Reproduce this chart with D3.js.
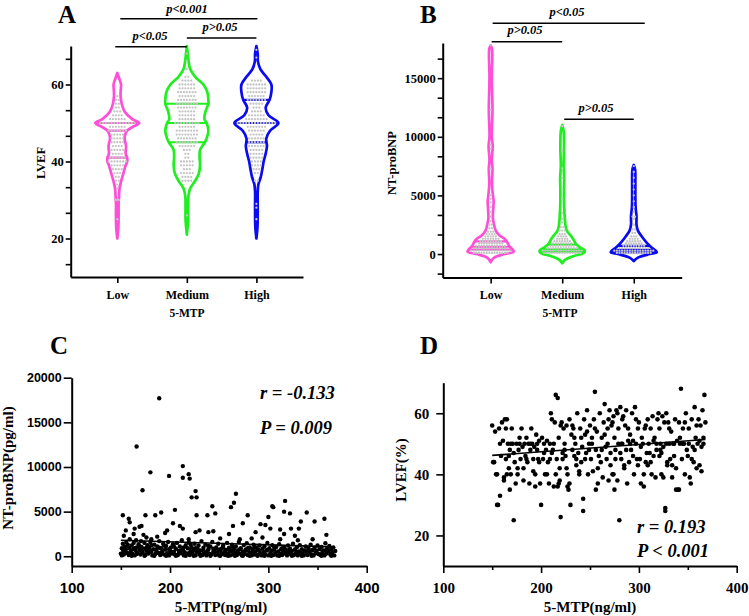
<!DOCTYPE html>
<html>
<head>
<meta charset="utf-8">
<script src="https://cdn.jsdelivr.net/npm/d3@7"></script>
<style>
  body { margin: 0; background: #fff; }
  svg text { font-weight: bold; fill: #000; }
</style>
</head>
<body>
<script>
// ---------- data ----------
const groups = ["Low", "Medium", "High"];
const groupColors = ["#ff4fd8", "#1fee1f", "#0b0bf0"];

// panel A : LVEF violins, [value, relative half width]
const lvefLowShape = [[63,0],[61,0.12],[60,0.17],[58,0.15],[57,0.15],[55,0.2],[53,0.33],[51,0.68],[50,1.0],[49,0.7],[48,0.45],[47,0.36],[46,0.33],[44,0.4],[42,0.38],[41,0.45],[40,0.45],[39,0.38],[37,0.28],[35,0.18],[33,0.1],[31,0.08],[29,0.06],[26,0.06],[23,0.05],[20,0]];
const lvefMedShape = [[70,0],[68,0.04],[66,0.08],[64,0.15],[62,0.38],[60,0.75],[58,0.93],[56,0.98],[55,0.98],[53,0.85],[51,0.8],[50,0.9],[48,0.98],[46,0.9],[45,0.82],[43,0.6],[41,0.58],[39,0.6],[37,0.55],[35,0.38],[33,0.15],[31,0.07],[28,0.06],[25,0.06],[21,0]];
const lvefHighShape = [[70,0],[68,0.06],[66,0.07],[64,0.18],[62,0.45],[60,0.68],[58,0.68],[56,0.6],[54,0.42],[52,0.55],[50,1.0],[48,0.62],[46,0.45],[44,0.48],[42,0.42],[40,0.33],[38,0.27],[36,0.2],[34,0.09],[32,0.06],[29,0.06],[26,0.06],[23,0.05],[20,0]];
const lvefQuartiles = [[41,48,50],[45,50,55],[45,50,56]];
// dots inside violins: [value, count]
const lvefLowDots = [[57,1],[56,2],[55,2],[54,2],[53,3],[52,4],[51,6],[50,13],[49,6],[48,7],[47,5],[46,5],[45,5],[44,4],[43,5],[42,4],[41,6],[40,7],[39,5],[38,4],[37,3],[36,2],[35,2],[34,1],[33,1],[30,2],[25,1]];
const lvefMedDots = [[68,1],[66,1],[64,1],[62,2],[61,4],[60,6],[59,6],[58,7],[57,6],[56,7],[55,8],[54,7],[53,6],[52,6],[51,6],[50,9],[49,6],[48,8],[47,8],[46,7],[45,8],[44,6],[43,3],[42,2],[41,2],[40,5],[39,5],[38,3],[37,5],[36,4],[35,4],[26,1]];
const lvefHighDots = [[69,1],[67,1],[61,4],[60,7],[59,7],[58,7],[57,6],[56,7],[55,5],[54,3],[53,4],[52,6],[51,8],[50,14],[49,7],[48,6],[47,5],[46,6],[45,6],[44,6],[43,5],[42,5],[41,5],[40,4],[39,4],[38,3],[37,2],[35,2],[29,1],[28,1],[25,1]];
const lvefTicks = [20, 40, 60];
const lvefMinor = [13.33, 26.67, 33.33, 46.67, 53.33, 66.67];

// panel B : NT-proBNP violins
const bnpLowShape = [[17800,0],[17500,0.06],[15000,0.05],[12300,0.08],[10000,0.05],[9200,0.09],[8000,0.05],[7300,0.08],[6000,0.06],[5000,0.1],[4500,0.13],[3500,0.1],[3000,0.1],[2500,0.15],[2000,0.22],[1600,0.38],[1300,0.6],[1000,0.72],[700,0.8],[400,0.95],[200,1.0],[0,0.62],[-300,0.15],[-700,0]];
const bnpMedShape = [[11000,0],[10500,0.06],[9000,0.08],[7500,0.06],[6500,0.09],[5500,0.08],[4500,0.08],[3500,0.1],[2500,0.14],[2000,0.2],[1500,0.4],[1200,0.5],[900,0.58],[600,0.75],[300,0.98],[100,0.95],[-200,0.45],[-500,0.12],[-800,0]];
const bnpHighShape = [[7600,0],[7200,0.06],[6000,0.07],[5000,0.07],[4000,0.08],[3200,0.12],[2500,0.12],[2000,0.18],[1500,0.35],[1000,0.55],[600,0.75],[300,0.95],[150,1.0],[0,0.7],[-300,0.18],[-600,0]];
const bnpQuartiles = [[370,600,1080],[200,400,800],[150,350,700]];
const bnpLowDots = [[100,14],[300,16],[500,14],[700,12],[900,10],[1100,9],[1300,7],[1500,5],[1700,4],[1900,3],[2200,2],[2500,2],[2800,1],[3200,1],[3600,1],[4000,1],[4400,1],[4700,1],[5000,1],[7300,1],[9000,1],[9300,1],[12300,1],[17800,1]];
const bnpMedDots = [[100,15],[300,16],[500,12],[700,10],[900,8],[1100,7],[1300,5],[1500,4],[1700,3],[2000,3],[2300,2],[2700,1],[3000,1],[3500,1],[4700,1],[5500,1],[6500,1],[7300,1],[8800,1],[9000,1],[10900,1]];
const bnpHighDots = [[100,14],[300,16],[500,12],[700,9],[900,7],[1100,6],[1300,4],[1500,3],[1800,2],[2100,2],[2500,1],[3000,1],[3200,2],[3600,1],[4000,1],[4500,1],[5000,1],[5500,1],[6000,1],[6500,1],[7000,1],[7500,1]];
const bnpTicks = [0, 5000, 10000, 15000];
const bnpMinor = [-1667, 1667, 3333, 6667, 8333, 11667, 13333, 16667];

// panel C : 5-MTP vs NT-proBNP
const scatterBnp = [
  [189,17700],[166,12300],[180,9400],[199,9000],[213,10100],[213,8800],[219,9200],[220,8700],[172,7400],[222,6600],[226,7300],[227,6600],[267,7000],[265,6000],[317,6200],[304,5600],[305,5500],[243,5600],[246,4800],[262,5500],[227,4600],[238,4600],[205,5200],[191,4900],[185,4600],[175,4600],[152,4600],[158,4200],[279,4600],[339,4900],[347,3900],[357,4200],[316,5000],[333,3900],[322,4800],[300,4400],[302,3100],[312,3000],[323,3100],[331,3100],[312,1900],[203,3700],[210,3400],[213,3100],[171,3400],[164,3100],[155,2900],[159,3800],[230,2900],[264,3400],[274,3700],[287,2700],[297,3500],[292,3600],[359,2400],[239,2700],[244,2800],[260,2500],[271,1900],[195,2600],[197,2900],[219,1900],[173,2400],[176,2100],[181,1900],[187,2200],[153,2300],[163,2500],[169,3300],[226,2700],[283,2000],[294,2100],[327,2300],[345,1900],[251,2000],[316,2500],[330,1800],
  [150,300],[151,900],[152,1400],[152.5,600],[153,200],[154,1100],[155,750],[155.5,1600],[156,400],[157,1300],[158,150],[158.5,900],[159,1900],[160,500],[161,1200],[162,250],[162.5,800],[163,1500],[164,100],[165,650],[165.5,1800],[166,1000],[167,350],[168,1350],[169,700],[170,200],[170.5,1700],[171,1050],[172,450],[173,850],[174,1500],[175,150],[176,600],[177,1250],[178,300],[179,950],[180,1600],[181,500],[182,100],[183,800],[184,1300],[185,250],[186,700],[187,1100],[188,400],[189,1700],[190,150],[191,900],[192,550],[193,1400],[194,200],[195,750],[196,1150],[197,350],[198,1600],[199,100],[200,650],[201,1000],[202,300],[203,1350],[204,500],[205,200],[206,850],[207,1500],[208,150],[209,600],[210,1100],[211,350],[212,1800],[213,750],[214,100],[215,450],[216,1250],[217,250],[218,900],[219,1550],[220,150],[221,600],[222,1000],[223,300],[224,700],[225,1400],[226,100],[227,500],[228,850],[229,1200],[230,250],[231,650],[232,1700],[233,150],[234,950],[235,400],[236,1300],[237,100],[238,600],[239,800],[240,300],[241,1100],[242,200],[243,1600],[244,500],[245,750],[246,150],[247,1000],[248,350],[249,1400],[250,100],[251,600],[252,850],[253,250],[254,1200],[255,450],[256,150],[257,700],[258,1500],[259,300],[260,950],[261,100],[262,550],[263,1300],[264,200],[265,800],[266,400],[267,1100],[268,150],[269,650],[270,1600],[271,300],[272,900],[273,100],[274,500],[275,1250],[276,250],[277,750],[278,1450],[279,150],[280,600],[281,1000],[282,350],[283,100],[284,800],[285,1300],[286,200],[287,550],[288,950],[289,150],[290,700],[291,1200],[292,300],[293,100],[294,850],[295,450],[296,1100],[297,200],[298,650],[299,1500],[300,100],[301,900],[302,350],[303,600],[304,1250],[305,150],[306,750],[307,400],[308,1050],[309,100],[310,550],[311,1350],[312,250],[313,800],[314,150],[315,500],[316,1000],[317,300],[318,700],[319,100],[320,1200],[321,450],[322,850],[323,200],[324,600],[325,1400],[326,150],[327,750],[328,350],[329,1000],[330,100],[331,550],[332,1250],[333,250],[334,800],[335,400],[336,100],[337,650],[338,1100],[339,300],[340,150],[341,850],[342,500],[343,1300],[344,200],[345,700],[346,100],[347,950],[348,400],[349,600],[350,1200],[351,250],[352,800],[353,150],[354,1050],[355,450],[356,650],[357,100],[358,1450],[359,300],[360,900],[361,550],[362,1150],[363,200],[364,750],[365,400],[366,1000],[367,100],[368,600],
  [151,100],[153,650],[156,1000],[159,350],[161,50],[164,900],[166,250],[169,1100],[171,600],[174,50],[176,950],[179,700],[181,1250],[184,50],[186,400],[189,950],[191,300],[194,1200],[196,50],[199,800],[201,450],[204,1100],[206,50],[209,300],[211,650],[214,1000],[216,50],[219,350],[221,1300],[224,50],[226,900],[229,450],[231,50],[234,600],[236,300],[239,1150],[241,50],[244,850],[246,400],[249,700],[251,50],[254,950],[256,450],[259,50],[261,650],[264,1000],[266,50],[269,350],[271,800],[274,50],[276,550],[279,900],[281,50],[284,450],[286,1050],[289,50],[291,600],[294,300],[296,50],[299,700],[303,50],[306,1000],[311,50],[314,900],[319,600],[324,50],[329,450],[334,50],[339,600],[344,50],[349,350],[354,50],[359,700],[364,50]
];
const fitBnp = [[150,1800],[366,1050]];
const bnpScatterTicks = [0, 5000, 10000, 15000, 20000];

// panel D : 5-MTP vs LVEF
const scatterLvef = [
  [150,56],[152,44],[153,54],[154,40],[155,30],[156,30],[157,55],[158,50],[158,33],[159,46],[151,44],[155,40],
  [160,57],[161,51],[162,38],[163,58],[164,45],[165,58],[165,40],[166,50],[167,42],[168,35],[168,48],[169,50],[162,39],[164,55],[167,46],[169,40],
  [170,55],[171,50],[172,25],[172,47],[173,44],[174,37],[175,50],[176,42],[177,48],[178,52],[179,45],[176,40],[178,50],
  [180,55],[181,49],[182,38],[183,50],[184,46],[185,52],[186,44],[187,50],[188,37],[189,48],[185,45],[182,42],[189,50],
  [190,55],[191,50],[192,41],[193,49],[194,36],[195,53],[196,48],[197,45],[198,51],[199,37],[196,50],[192,45],[198,44],[194,40],
  [200,30],[201,52],[202,45],[203,50],[204,40],[205,48],[206,51],[207,44],[208,37],[209,50],[203,47],[206,40],[209,45],
  [210,60],[211,58],[212,48],[213,36],[214,57],[215,66],[216,45],[217,65],[217,36],[218,52],[219,38],[220,56],[211,47],[213,50],[215,40],[219,42],[218,37],
  [220,26],[221,57],[222,47],[223,55],[224,50],[225,46],[226,42],[227,36],[227,40],[228,35],[229,58],[224,48],[222,45],[226,56],[229,37],
  [230,30],[231,53],[232,48],[233,55],[234,46],[235,50],[236,43],[237,60],[238,47],[239,41],[232,56],[234,52],[236,45],[239,40],
  [240,55],[241,44],[242,49],[243,32],[243,28],[244,58],[245,53],[246,47],[247,61],[248,40],[249,50],[241,52],[245,45],[247,54],[249,48],
  [250,56],[251,45],[252,52],[253,41],[254,58],[255,67],[256,35],[256,48],[257,54],[258,37],[259,46],[252,50],[255,55],[258,42],
  [260,60],[261,44],[262,52],[263,39],[264,57],[265,63],[266,49],[267,45],[268,55],[269,38],[262,48],[265,53],[268,50],[269,58],
  [270,61],[271,47],[272,56],[273,40],[274,59],[275,35],[275,52],[276,45],[277,61],[278,38],[279,50],[271,43],[273,57],[276,48],[278,60],[274,40],[279,55],
  [280,25],[281,62],[282,45],[283,50],[284,59],[285,42],[286,56],[287,48],[288,37],[289,51],[281,47],[283,58],[285,43],[287,61],[289,55],[282,50],
  [290,44],[291,53],[292,48],[293,60],[294,46],[295,40],[296,62],[297,50],[298,45],[299,55],[291,50],[294,51],[297,58],[299,43],
  [300,57],[301,45],[302,37],[303,52],[304,50],[305,36],[306,55],[307,44],[308,47],[309,58],[302,49],[305,40],[307,56],[309,43],
  [310,50],[311,47],[312,55],[313,40],[314,59],[315,46],[316,52],[317,39],[318,50],[319,58],[312,44],[315,51],[318,48],
  [320,60],[321,46],[322,50],[323,40],[324,59],[325,49],[326,57],[327,28],[327,29],[328,60],[329,44],[321,55],[323,47],[325,39],[328,50],[329,43],[322,48],
  [330,57],[331,50],[332,45],[333,54],[334,39],[335,50],[336,46],[337,58],[338,42],[339,51],[331,55],[334,43],[336,50],[338,35],
  [340,35],[341,57],[342,50],[343,68],[344,45],[345,55],[346,50],[347,40],[348,60],[349,48],[342,52],[345,50],[347,57],[341,35],
  [350,46],[351,55],[352,39],[353,37],[354,58],[355,49],[356,44],[357,62],[358,52],[359,56],[351,50],[354,45],[357,48],[359,42],
  [360,50],[361,58],[362,43],[363,56],[364,41],[365,61],[366,52],[367,66],[368,57],[362,51],[366,50],[364,49]
];
const fitLvef = [[150,46.2],[368,51.4]];
const mtpTicks = [100, 200, 300, 400];
const mtpMinor = [150, 250, 350];

const SERIF = "'Liberation Serif','Times New Roman',serif";
const SANS = "'Liberation Sans',Arial,sans-serif";

// ---------- canvas ----------
const svg = d3.select("body").append("svg")
  .attr("width", 749).attr("height", 616);

function styleAxis(g, font, size) {
  g.select(".domain").attr("stroke", "#000").attr("stroke-width", 2);
  g.selectAll(".tick line").attr("stroke", "#000").attr("stroke-width", 1.6);
  g.selectAll(".tick text").attr("font-family", font).attr("font-size", size)
    .attr("font-weight", "bold").attr("fill", "#000");
}

function addText(x, y, str, font, size, anchor, opts) {
  opts = opts || {};
  let t = svg.append("text")
    .attr("x", x).attr("y", y)
    .attr("font-family", font).attr("font-size", size)
    .attr("text-anchor", anchor || "middle")
    .text(str);
  if (opts.italic) t.attr("font-style", "italic");
  if (opts.rotate) t.attr("transform", "rotate(-90," + x + "," + y + ")");
  return t;
}

// half width of a violin at value v (linear between profile points)
function widthAt(shape, v) {
  for (let i = 0; i < shape.length - 1; i++) {
    let a = shape[i], b = shape[i + 1];
    if (v <= a[0] && v >= b[0]) {
      return a[1] + (b[1] - a[1]) * (a[0] - v) / (a[0] - b[0]);
    }
  }
  return 0;
}

function drawViolins(x, y, shapes, quarts, dots, maxHalf, dotGap) {
  let w = d3.scaleLinear().domain([0, 1]).range([0, maxHalf]);
  groups.forEach((grp, i) => {
    let cx = x(grp);
    let area = d3.area()
      .curve(d3.curveCatmullRom)
      .y(d => y(d[0]))
      .x0(d => cx - w(d[1]))
      .x1(d => cx + w(d[1]));
    svg.append("path")
      .datum(shapes[i])
      .attr("d", area)
      .attr("fill", "none")
      .attr("stroke", groupColors[i])
      .attr("stroke-width", 2.7)
      .attr("stroke-linejoin", "round");
    // quartile / median lines
    quarts[i].forEach(q => {
      let hw = w(widthAt(shapes[i], q));
      svg.append("line")
        .attr("x1", cx - hw).attr("x2", cx + hw)
        .attr("y1", y(q)).attr("y2", y(q))
        .attr("stroke", groupColors[i]).attr("stroke-width", 2.2);
    });
    // gray data dots
    let pts = [];
    dots[i].forEach(([v, n]) => {
      for (let k = 0; k < n; k++) pts.push([cx + (k - (n - 1) / 2) * dotGap, y(v)]);
    });
    svg.append("g").selectAll("circle")
      .data(pts).enter().append("circle")
      .attr("cx", d => d[0]).attr("cy", d => d[1])
      .attr("r", 1.15)
      .attr("fill", "#c4c4c4");
  });
}

function sigBar(x1, x2, yLine, label, xText, yText) {
  svg.append("line")
    .attr("x1", x1).attr("x2", x2).attr("y1", yLine).attr("y2", yLine)
    .attr("stroke", "#000").attr("stroke-width", 1.6);
  addText(xText, yText, label, SERIF, 12.5, "middle", {italic: true});
}

// ---------- panel A ----------
const xA = d3.scalePoint().domain(groups).range([70.7, 303]).padding(0.67);
const yA = d3.scaleLinear().domain([10, 70]).range([277, 46]);

svg.append("g").attr("transform", "translate(70.7,0)")
  .call(d3.axisLeft(yA).tickValues(lvefMinor).tickSize(5).tickSizeOuter(0).tickFormat(""))
  .call(g => g.select(".domain").remove())
  .call(g => g.selectAll(".tick line").attr("stroke", "#000").attr("stroke-width", 1.6));
svg.append("g").attr("transform", "translate(70.7,0)")
  .call(d3.axisLeft(yA).tickValues(lvefTicks).tickSize(5).tickSizeOuter(0).tickPadding(2))
  .call(g => styleAxis(g, SERIF, 12.5));
svg.append("g").attr("transform", "translate(0,277)")
  .call(d3.axisBottom(xA).tickSize(6).tickSizeOuter(0).tickPadding(7))
  .call(g => styleAxis(g, SERIF, 12));

drawViolins(xA, yA, [lvefLowShape, lvefMedShape, lvefHighShape], lvefQuartiles,
  [lvefLowDots, lvefMedDots, lvefHighDots], 22, 2.9);

addText(58, 23, "A", SERIF, 25, "start");
addText(45, 163, "LVEF", SERIF, 12.5, "middle", {rotate: true});
addText(187, 317, "5-MTP", SERIF, 11.5, "middle");
sigBar(xA("Low") + 3, xA("High") + 1, 18.7, "p<0.001", 187, 13);
sigBar(xA("Medium"), xA("High"), 38, "p>0.05", 220, 31);
sigBar(xA("Low") - 2, xA("Medium"), 46.7, "p<0.05", 150, 40);

// ---------- panel B ----------
const xB = d3.scalePoint().domain(groups).range([442.7, 681.7]).padding(0.67);
const yB = d3.scaleLinear().domain([-2000, 18000]).range([277.5, 43]);

svg.append("g").attr("transform", "translate(442.7,0)")
  .call(d3.axisLeft(yB).tickValues(bnpMinor).tickSize(5).tickSizeOuter(0).tickFormat(""))
  .call(g => g.select(".domain").remove())
  .call(g => g.selectAll(".tick line").attr("stroke", "#000").attr("stroke-width", 1.6));
svg.append("g").attr("transform", "translate(442.7,0)")
  .call(d3.axisLeft(yB).tickValues(bnpTicks).tickSize(5).tickSizeOuter(0).tickPadding(2).tickFormat(d3.format("d")))
  .call(g => styleAxis(g, SERIF, 12.5));
svg.append("g").attr("transform", "translate(0,277.5)")
  .call(d3.axisBottom(xB).tickSize(6).tickSizeOuter(0).tickPadding(7))
  .call(g => styleAxis(g, SERIF, 12));

drawViolins(xB, yB, [bnpLowShape, bnpMedShape, bnpHighShape], bnpQuartiles,
  [bnpLowDots, bnpMedDots, bnpHighDots], 23, 2.6);

addText(420, 23, "B", SERIF, 25, "start");
addText(396, 163, "NT-proBNP", SERIF, 12.5, "middle", {rotate: true});
addText(560, 317, "5-MTP", SERIF, 11.5, "middle");
sigBar(xB("Low") + 2, xB("High") + 11, 23.3, "p<0.05", 567, 16);
sigBar(xB("Low") + 1, xB("Medium"), 41.7, "p>0.05", 525, 34);
sigBar(xB("Medium") + 2, xB("High"), 119.3, "p>0.05", 596, 112);

// ---------- panel C ----------
const xC = d3.scaleLinear().domain([100, 400]).range([71.7, 366.7]);
const yC = d3.scaleLinear().domain([-1090, 20000]).range([566, 377.7]);

svg.append("g").attr("transform", "translate(71.7,0)")
  .call(d3.axisLeft(yC).tickValues(bnpScatterTicks).tickSize(8).tickSizeOuter(0).tickPadding(2).tickFormat(d3.format("d")))
  .call(g => styleAxis(g, SANS, 12.5));
svg.append("g").attr("transform", "translate(0,566)")
  .call(d3.axisBottom(xC).tickValues(mtpMinor).tickSize(4).tickFormat(""))
  .call(g => g.select(".domain").remove())
  .call(g => g.selectAll(".tick line").attr("stroke", "#000").attr("stroke-width", 1.6));
svg.append("g").attr("transform", "translate(0,566)")
  .call(d3.axisBottom(xC).tickValues(mtpTicks).tickSize(7).tickSizeOuter(0).tickPadding(9))
  .call(g => styleAxis(g, SANS, 15));

svg.append("g").selectAll("circle")
  .data(scatterBnp).enter().append("circle")
  .attr("cx", d => xC(d[0])).attr("cy", d => yC(d[1]))
  .attr("r", 2.2).attr("fill", "#000");
svg.append("path")
  .datum(fitBnp)
  .attr("d", d3.line().x(d => xC(d[0])).y(d => yC(d[1])))
  .attr("stroke", "#000").attr("stroke-width", 1.6).attr("fill", "none");

addText(50, 354, "C", SERIF, 25, "start");
addText(13, 468, "NT-proBNP(pg/ml)", SERIF, 15, "middle", {rotate: true});
addText(221, 612, "5-MTP(ng/ml)", SERIF, 15, "middle");
addText(260, 399, "r = -0.133", SERIF, 18.5, "start", {italic: true});
addText(260, 434, "P = 0.009", SERIF, 18.5, "start", {italic: true});

// ---------- panel D ----------
const xD = d3.scaleLinear().domain([100, 400]).range([443.3, 736.7]);
const yD = d3.scaleLinear().domain([10, 70]).range([566, 382.7]);

svg.append("g").attr("transform", "translate(443.3,0)")
  .call(d3.axisLeft(yD).tickValues(lvefTicks).tickSize(7).tickSizeOuter(0).tickPadding(7))
  .call(g => styleAxis(g, SERIF, 15));
svg.append("g").attr("transform", "translate(0,566)")
  .call(d3.axisBottom(xD).tickValues(mtpMinor).tickSize(4).tickFormat(""))
  .call(g => g.select(".domain").remove())
  .call(g => g.selectAll(".tick line").attr("stroke", "#000").attr("stroke-width", 1.6));
svg.append("g").attr("transform", "translate(0,566)")
  .call(d3.axisBottom(xD).tickValues(mtpTicks).tickSize(7).tickSizeOuter(0).tickPadding(9))
  .call(g => styleAxis(g, SERIF, 15));

svg.append("g").selectAll("circle")
  .data(scatterLvef).enter().append("circle")
  .attr("cx", d => xD(d[0])).attr("cy", d => yD(d[1]))
  .attr("r", 2.3).attr("fill", "#000");
svg.append("path")
  .datum(fitLvef)
  .attr("d", d3.line().x(d => xD(d[0])).y(d => yD(d[1])))
  .attr("stroke", "#000").attr("stroke-width", 1.6).attr("fill", "none");

addText(420, 354, "D", SERIF, 25, "start");
addText(406, 470, "LVEF(%)", SERIF, 15, "middle", {rotate: true});
addText(590, 612, "5-MTP(ng/ml)", SERIF, 15, "middle");
addText(637, 533, "r = 0.193", SERIF, 18.5, "start", {italic: true});
addText(637, 557, "P < 0.001", SERIF, 18.5, "start", {italic: true});
</script>
</body>
</html>
